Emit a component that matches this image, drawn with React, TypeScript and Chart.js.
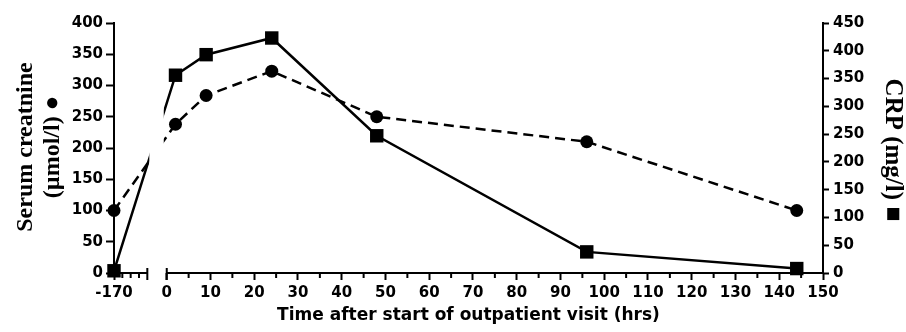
import React, { useEffect, useRef } from 'react';
import { Chart, registerables, LinearScale } from 'chart.js';

Chart.register(...registerables);

// ---- data ----
const TIME_HOURS = [-170, 2, 9, 24, 48, 96, 144];
const CREATININE = [100, 238, 284, 323, 250, 210, 100];
const CRP = [4, 356, 393, 423, 247, 38, 8];

// ---- axes ----
const X_MAJOR_TICKS = [-170, 0, 10, 20, 30, 40, 50, 60, 70, 80, 90, 100, 110, 120, 130, 140, 150];
const X_MINOR_TICKS = [-167.5, -165, -162.5, 5, 15, 25, 35, 45, 55, 65, 75, 85, 95, 105, 115, 125, 135, 145];
const LEFT_SEGMENT = [-170, -160];
const RIGHT_SEGMENT = [0, 150];
const LEFT_FRAC = 0.047;
const GAP_FRAC = 0.0274;

const LEFT_TITLE = ['Serum creatnine', '(\u00b5mol/l) \u25cf'];
const RIGHT_TITLE = 'CRP (mg/l) \u25a0';
const X_TITLE = 'Time after start of outpatient visit (hrs)';

class BrokenLinearScale extends LinearScale {
  static id = 'brokenLinear';
  buildTicks() {
    (this as any).start = (this as any).min;
    (this as any).end = (this as any).max;
    return X_MAJOR_TICKS.map((v) => ({ value: v }));
  }
  _segs() {
    const left = (this as any).left;
    const right = (this as any).right;
    const w = right - left;
    const l1 = left + w * LEFT_FRAC;
    const r0 = l1 + w * GAP_FRAC;
    return { left, right, l1, r0 };
  }
  getPixelForValue(value: any) {
    if (value === null || value === undefined || isNaN(value)) return NaN;
    const { left, right, l1, r0 } = this._segs();
    const [a0, a1] = LEFT_SEGMENT;
    const [b0, b1] = RIGHT_SEGMENT;
    if (value <= a1) return left + ((value - a0) / (a1 - a0)) * (l1 - left);
    if (value >= b0) return r0 + ((value - b0) / (b1 - b0)) * (right - r0);
    return l1 + ((value - a1) / (b0 - a1)) * (r0 - l1);
  }
  getValueForPixel(pixel: number) {
    const { left, right, l1, r0 } = this._segs();
    const [a0, a1] = LEFT_SEGMENT;
    const [b0, b1] = RIGHT_SEGMENT;
    if (pixel <= l1) return a0 + ((pixel - left) / (l1 - left)) * (a1 - a0);
    if (pixel >= r0) return b0 + ((pixel - r0) / (right - r0)) * (b1 - b0);
    return a1 + ((pixel - l1) / (r0 - l1)) * (b0 - a1);
  }
}
Chart.register(BrokenLinearScale as any);

const decorPlugin = {
  id: 'decor',
  beforeDatasetsDraw(chart: any) {
    const { ctx, chartArea, scales } = chart;
    const xs = scales.x;
    const yb = chartArea.bottom;
    const pL = xs.getPixelForValue(LEFT_SEGMENT[1]);
    const pR = xs.getPixelForValue(RIGHT_SEGMENT[0]);
    ctx.save();
    ctx.strokeStyle = '#000';
    ctx.lineWidth = 2;
    ctx.beginPath();
    ctx.moveTo(chartArea.left - 1, yb);
    ctx.lineTo(pL, yb);
    ctx.moveTo(pR, yb);
    ctx.lineTo(chartArea.right + 1, yb);
    ctx.moveTo(pL, yb - 5);
    ctx.lineTo(pL, yb + 7);
    ctx.moveTo(pR, yb - 5);
    ctx.lineTo(pR, yb + 7);
    ctx.stroke();
    ctx.beginPath();
    for (const v of X_MINOR_TICKS) {
      const p = xs.getPixelForValue(v);
      ctx.moveTo(p, yb);
      ctx.lineTo(p, yb + 5);
    }
    ctx.stroke();
    ctx.restore();
  },
  afterDatasetsDraw(chart: any) {
    const { ctx, chartArea, scales } = chart;
    const xs = scales.x;
    const pL = xs.getPixelForValue(LEFT_SEGMENT[1]);
    const pR = xs.getPixelForValue(RIGHT_SEGMENT[0]);
    ctx.save();
    ctx.fillStyle = '#fff';
    ctx.fillRect(pL + 2, chartArea.top - 5, pR - pL - 5, chartArea.bottom - chartArea.top + 2);
    ctx.restore();
  },
  afterDraw(chart: any) {
    const { ctx } = chart;
    ctx.save();
    ctx.fillStyle = '#000';
    ctx.font = 'bold 24px "Liberation Serif"';
    ctx.textAlign = 'center';
    ctx.textBaseline = 'alphabetic';
    ctx.save();
    ctx.translate(32, 147);
    ctx.rotate(-Math.PI / 2);
    ctx.fillText(LEFT_TITLE[0], 0, 0);
    ctx.restore();
    ctx.save();
    ctx.translate(59, 147);
    ctx.rotate(-Math.PI / 2);
    ctx.fillText(LEFT_TITLE[1], 0, 0);
    ctx.restore();
    ctx.save();
    ctx.font = 'bold 25px "Liberation Serif"';
    ctx.translate(886, 150);
    ctx.rotate(Math.PI / 2);
    ctx.fillText(RIGHT_TITLE, 0, 0);
    ctx.restore();
    ctx.restore();
  },
};

const tickFont = { family: '"DejaVu Sans"', weight: 'bold' as const, size: 15 };

export default function App() {
  const ref = useRef<HTMLCanvasElement>(null);
  useEffect(() => {
    if (!ref.current) return;
    const chart = new Chart(ref.current, {
      type: 'line',
      data: {
        datasets: [
          {
            label: 'Serum creatinine',
            data: TIME_HOURS.map((t, i) => ({ x: t, y: CREATININE[i] })),
            xAxisID: 'x',
            yAxisID: 'y',
            borderColor: '#000',
            backgroundColor: '#000',
            borderWidth: 2.5,
            borderDash: [10, 6],
            pointStyle: 'circle',
            pointRadius: 6.5,
            pointBackgroundColor: '#000',
            pointBorderColor: '#000',
            pointBorderWidth: 0,
            clip: false as any,
            tension: 0,
          },
          {
            label: 'CRP',
            data: TIME_HOURS.map((t, i) => ({ x: t, y: CRP[i] })),
            xAxisID: 'x',
            yAxisID: 'y1',
            borderColor: '#000',
            backgroundColor: '#000',
            borderWidth: 2.5,
            pointStyle: 'rect',
            pointRadius: 9.5,
            pointBackgroundColor: '#000',
            pointBorderColor: '#000',
            pointBorderWidth: 0,
            clip: false as any,
            tension: 0,
          },
        ],
      },
      options: {
        responsive: false,
        animation: false,
        devicePixelRatio: 1,
        layout: { padding: { top: 23, left: 0, right: 0, bottom: 0 } },
        plugins: { legend: { display: false }, tooltip: { enabled: false } },
        scales: {
          x: {
            type: 'brokenLinear' as any,
            position: 'bottom',
            min: LEFT_SEGMENT[0],
            max: RIGHT_SEGMENT[1],
            border: { display: false },
            grid: { drawOnChartArea: false, tickLength: 7, tickWidth: 2, tickColor: '#000', color: '#000' },
            ticks: {
              autoSkip: false,
              maxRotation: 0,
              padding: 4,
              color: '#000',
              font: tickFont,
              callback: (v: any) => String(v),
            },
            title: {
              display: true,
              text: X_TITLE,
              color: '#000',
              font: { family: '"DejaVu Sans"', weight: 'bold', size: 17 },
              padding: { top: 0, bottom: 6 },
            },
            afterFit: (s: any) => {
              s.height = 59;
            },
          } as any,
          y: {
            type: 'linear',
            position: 'left',
            min: 0,
            max: 400,
            border: { color: '#000', width: 2 },
            grid: { drawOnChartArea: false, tickLength: 8, tickWidth: 2, tickColor: '#000', color: '#000' },
            ticks: { stepSize: 50, padding: 3, color: '#000', font: tickFont },
            afterFit: (s: any) => {
              s.width = 114;
            },
          },
          y1: {
            type: 'linear',
            position: 'right',
            min: 0,
            max: 450,
            border: { color: '#000', width: 2 },
            grid: { drawOnChartArea: false, tickLength: 6, tickWidth: 2, tickColor: '#000', color: '#000' },
            ticks: { stepSize: 50, padding: 4, color: '#000', font: tickFont },
            afterFit: (s: any) => {
              s.width = 83;
            },
          },
        },
      },
      plugins: [decorPlugin],
    });
    return () => chart.destroy();
  }, []);
  return (
    <div style={{ position: 'fixed', left: 0, top: 0, width: 906, height: 332, background: '#fff' }}>
      <canvas ref={ref} width={906} height={332} style={{ display: 'block', width: 906, height: 332 }} />
    </div>
  );
}
